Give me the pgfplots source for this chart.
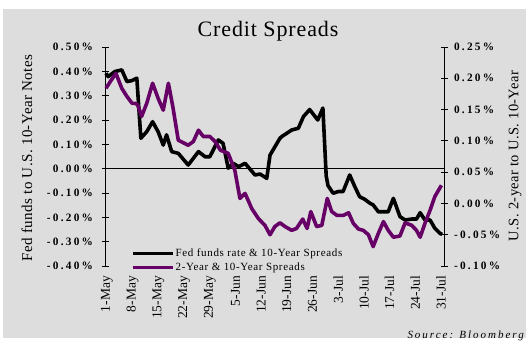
\documentclass[border=0pt]{standalone}
\usepackage{fontspec}
\setmainfont{Liberation Serif}
\newfontfamily\tickfont[LetterSpace=20]{Liberation Serif}
\newfontfamily\legfont[LetterSpace=6]{Liberation Serif}
\newfontfamily\srcfont[LetterSpace=18]{Liberation Serif}
\newfontfamily\labfont[LetterSpace=3]{Liberation Serif}
\newfontfamily\titfont[LetterSpace=4]{Liberation Serif}
\usepackage{pgfplots}
\pgfplotsset{compat=1.18}
\definecolor{bggray}{RGB}{221,221,221}
\definecolor{spurple}{RGB}{102,0,102}
\begin{document}
\begin{tikzpicture}[x=1pt,y=1pt]
\useasboundingbox (0,0) rectangle (526,343);
\fill[bggray] (3,5) rectangle (526,334);
\begin{axis}[
  at={(105pt,77pt)}, anchor=south west, scale only axis,
  width=339pt, height=219pt,
  xmin=-0.27, xmax=92.1, ymin=-0.4, ymax=0.5,
  axis y line*=left, axis x line*=bottom,
  x axis line style={draw=none},
  xtick={0,7,...,91},
  xticklabels={1-May,8-May,15-May,22-May,29-May,5-Jun,12-Jun,19-Jun,26-Jun,3-Jul,10-Jul,17-Jul,24-Jul,31-Jul},
  xticklabel style={rotate=90, anchor=east, font=\fontsize{13.5}{14}\selectfont, xshift=-3pt, yshift=-1pt},
  x tick style={draw=none},
  ytick={-0.4,-0.3,-0.2,-0.1,0,0.1,0.2,0.3,0.4,0.5},
  yticklabels={-0.40\%,-0.30\%,-0.20\%,-0.10\%,0.00\%,0.10\%,0.20\%,0.30\%,0.40\%,0.50\%},
  yticklabel style={font=\tickfont\bfseries\fontsize{11.3}{12}\selectfont, xshift=-5pt},
  tick align=center, major tick length=7pt,
  y axis line style={line width=0.8pt}, y tick style={line width=0.8pt, black},
  clip=false,
]
\addplot[black, line width=0.6pt] coordinates {(-0.27,0) (92.1,0)};
\addplot[black, line width=3.6pt, line join=round] coordinates {
(0,0.392) (0.6,0.378) (2.4,0.399) (4.3,0.406) (5.7,0.358) (7.1,0.362) (8.4,0.372)
(9.5,0.125) (11.1,0.152) (12.7,0.193) (14.2,0.152) (15.6,0.097) (16.5,0.139)
(17.9,0.070) (19.7,0.063) (22.4,0.015) (25.2,0.070) (27,0.049) (28.3,0.049)
(30.6,0.118) (31.9,0.104) (33.3,0.002) (34.7,0.022) (36.1,0.008) (37.9,0.022)
(40.6,-0.026) (42,-0.022) (43.8,-0.040) (44.7,0.056) (47.4,0.125) (47.9,0.132)
(50.6,0.159) (52.4,0.166) (53.8,0.214) (55.5,0.243) (57.7,0.200) (59.1,0.249)
(60.0,-0.03) (60.5,-0.07) (61.9,-0.101) (63.3,-0.094) (64.6,-0.094) (66.4,-0.026)
(67.8,-0.074) (69.1,-0.115) (70.5,-0.126) (71.9,-0.142) (72.8,-0.149) (74.2,-0.177)
(76,-0.177) (76.9,-0.177) (78.3,-0.122) (80.1,-0.197) (81.5,-0.211) (83.3,-0.207)
(84.6,-0.207) (85.6,-0.181) (86.9,-0.211) (88.3,-0.211) (89.6,-0.245) (91,-0.266) (91.6,-0.270)
};
\end{axis}
\begin{axis}[
  at={(105pt,77pt)}, anchor=south west, scale only axis,
  width=339pt, height=219pt,
  xmin=-0.27, xmax=92.1, ymin=-0.1, ymax=0.25,
  axis y line*=right, axis x line=none,
  ytick={-0.1,-0.05,0,0.05,0.1,0.15,0.2,0.25},
  yticklabels={-0.10\%,-0.05\%,0.00\%,0.05\%,0.10\%,0.15\%,0.20\%,0.25\%},
  yticklabel style={font=\tickfont\bfseries\fontsize{11.3}{12}\selectfont, xshift=3pt},
  tick align=center, major tick length=7pt,
  y axis line style={line width=0.8pt}, y tick style={line width=0.8pt, black},
  clip=false,
  legend style={at={(rel axis cs:0.078,0.085)}, anchor=north west, draw=none, fill=none,
    inner sep=0pt, row sep=3pt, font=\legfont\fontsize{11}{12}\selectfont,
    nodes={inner sep=1pt}},
  legend cell align=left,
  legend image code/.code={\draw[#1, line width=3pt] (0pt,0pt) -- (40pt,0pt);},
]
\addlegendimage{black}
\addlegendentry{Fed funds rate \& 10-Year Spreads}
\addplot[spurple, line width=3.6pt, line join=round] coordinates {
(0,0.184) (1.1,0.194) (2.7,0.208) (4.3,0.184) (5.7,0.171) (7.1,0.160) (7.9,0.160)
(8.6,0.158) (9.7,0.139) (11.1,0.160) (12.7,0.192) (14.2,0.168) (15.6,0.149) (17,0.192)
(18.2,0.155) (19.7,0.101) (22.4,0.093) (23.8,0.099) (25.2,0.117) (26.5,0.107) (28.3,0.107)
(29.7,0.099) (31.2,0.085) (33.3,0.080) (35.1,0.053) (36.5,0.008) (37.9,0.016) (39.7,-0.008)
(41.5,-0.024) (43.3,-0.035) (44.7,-0.050) (46,-0.037) (47.4,-0.031) (48.8,-0.037)
(50.6,-0.043) (51.9,-0.040) (53.6,-0.025) (54.8,-0.040) (55.8,-0.013) (57.4,-0.037)
(58.8,-0.035) (60.3,0.008) (61.5,-0.013) (62.9,-0.019) (64.7,-0.019) (66.1,-0.015)
(67.4,-0.032) (68.8,-0.041) (70.1,-0.043) (71.5,-0.050) (72.8,-0.069) (74.2,-0.048)
(75.6,-0.029) (76.9,-0.043) (78.3,-0.054) (80.1,-0.052) (81.5,-0.031) (83.3,-0.035)
(84.6,-0.043) (85.6,-0.054) (86.9,-0.032) (88.3,-0.011) (89.6,0.011) (91.4,0.029)
};
\addlegendentry{2-Year \& 10-Year Spreads}
\end{axis}
\node[anchor=base, font=\titfont\fontsize{22}{24}\selectfont] at (268,306.5) {Credit Spreads};
\node[rotate=90, font=\labfont\fontsize{15}{16}\selectfont] at (27,185) {Fed funds to U.S. 10-Year Notes};
\node[rotate=90, font=\labfont\fontsize{14.5}{16}\selectfont] at (515,187) {U.S. 2-year to U.S. 10-Year};
\node[anchor=base east, inner sep=0pt, font=\srcfont\itshape\fontsize{11}{12}\selectfont] at (524,5) {Source: Bloomberg};
\end{tikzpicture}
\end{document}
